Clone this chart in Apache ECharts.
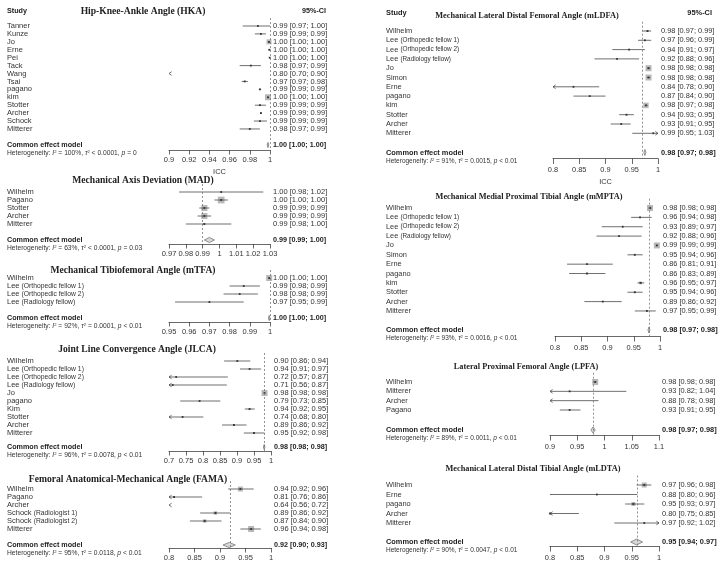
<!DOCTYPE html>
<html><head><meta charset="utf-8">
<script src="https://cdn.jsdelivr.net/npm/echarts@6/dist/echarts.min.js"></script>
<style>html,body{margin:0;padding:0;background:#fff}#c{width:728px;height:572px}</style>
</head><body><div id="c"></div>
<script>
// ================= DATA =================
// Hip-Knee-Ankle Angle (HKA)
const hkaTitle = 'Hip-Knee-Ankle Angle (HKA)';
const hkaStudies = ['Tanner','Kunze','Jo','Erne','Pei','Tack','Wang','Tsai','pagano','kim','Stotter','Archer','Schock','Mitterer'];
const hkaEst = [0.988,0.991,0.999,0.9995,0.9997,0.981,0.80,0.975,0.990,0.998,0.990,0.991,0.990,0.980];
const hkaLo  = [0.973,0.985,0.998,0.998,0.999,0.970,0.70,0.972,0.989,0.997,0.985,0.990,0.984,0.970];
const hkaHi  = [1.000,0.996,1.000,1.000,1.000,0.991,0.90,0.978,0.991,0.999,0.996,0.992,0.997,0.990];
const hkaWeight = [0.3,1,25,2,2,0.3,0.1,1,2,36,1,2,1,0.3];
const hkaCI = ['0.99 [0.97; 1.00]','0.99 [0.99; 0.99]','1.00 [1.00; 1.00]','1.00 [1.00; 1.00]','1.00 [1.00; 1.00]','0.98 [0.97; 0.99]','0.80 [0.70; 0.90]','0.97 [0.97; 0.98]','0.99 [0.99; 0.99]','1.00 [1.00; 1.00]','0.99 [0.99; 0.99]','0.99 [0.99; 0.99]','0.99 [0.99; 0.99]','0.98 [0.97; 0.99]'];
const hkaPooled = [0.998,0.9975,0.9985];
const hkaPooledLabel = '1.00 [1.00; 1.00]';
const hkaHet = ['100%','<','0.0001','=','0'];
const hkaTicks = [0.9,0.92,0.94,0.96,0.98,1];

// Mechanical Axis Deviation (MAD)
const madTitle = 'Mechanical Axis Deviation (MAD)';
const madStudies = ['Wilhelm','Pagano','Stotter','Archer','Mitterer'];
const madEst = [1.001,1.001,0.991,0.991,0.991];
const madLo  = [0.976,0.997,0.988,0.987,0.980];
const madHi  = [1.026,1.005,0.994,0.995,1.007];
const madWeight = [0.4,45,36,36,4];
const madCI = ['1.00 [0.98; 1.02]','1.00 [1.00; 1.00]','0.99 [0.99; 0.99]','0.99 [0.99; 0.99]','0.99 [0.98; 1.00]'];
const madPooled = [0.994,0.991,0.997];
const madPooledLabel = '0.99 [0.99; 1.00]';
const madHet = ['63%','<','0.0001','=','0.03'];
const madTicks = [0.97,0.98,0.99,1,1.01,1.02,1.03];

// Mechanical Tibiofemoral Angle (mTFA)
const mtfaTitle = 'Mechanical Tibiofemoral Angle (mTFA)';
const mtfaStudies = ['Wilhelm','Lee (Orthopedic fellow 1)','Lee (Orthopedic fellow 2)','Lee (Radiology fellow)'];
const mtfaEst = [0.9996,0.987,0.985,0.970];
const mtfaLo  = [0.9993,0.980,0.977,0.953];
const mtfaHi  = [0.9999,0.995,0.994,0.987];
const mtfaWeight = [36,0.3,0.3,0.2];
const mtfaCI = ['1.00 [1.00; 1.00]','0.99 [0.98; 0.99]','0.98 [0.98; 0.99]','0.97 [0.95; 0.99]'];
const mtfaPooled = [0.9996,0.9993,0.9999];
const mtfaPooledLabel = '1.00 [1.00; 1.00]';
const mtfaHet = ['92%','=','0.0001','<','0.01'];
const mtfaTicks = [0.95,0.96,0.97,0.98,0.99,1];

// Joint Line Convergence Angle (JLCA)
const jlcaTitle = 'Joint Line Convergence Angle (JLCA)';
const jlcaStudies = ['Wilhelm','Lee (Orthopedic fellow 1)','Lee (Orthopedic fellow 2)','Lee (Radiology fellow)','Jo','pagano','Kim','Stotter','Archer','Mitterer'];
const jlcaEst = [0.901,0.937,0.721,0.711,0.981,0.790,0.937,0.740,0.891,0.950];
const jlcaLo  = [0.862,0.909,0.57,0.56,0.980,0.733,0.923,0.68,0.856,0.920];
const jlcaHi  = [0.939,0.971,0.873,0.870,0.982,0.851,0.952,0.801,0.928,0.981];
const jlcaWeight = [0.5,0.5,0.1,0.1,36,0.2,3,0.2,0.4,0.5];
const jlcaCI = ['0.90 [0.86; 0.94]','0.94 [0.91; 0.97]','0.72 [0.57; 0.87]','0.71 [0.56; 0.87]','0.98 [0.98; 0.98]','0.79 [0.73; 0.85]','0.94 [0.92; 0.95]','0.74 [0.68; 0.80]','0.89 [0.86; 0.92]','0.95 [0.92; 0.98]'];
const jlcaPooled = [0.980,0.979,0.981];
const jlcaPooledLabel = '0.98 [0.98; 0.98]';
const jlcaHet = ['96%','=','0.0078','<','0.01'];
const jlcaTicks = [0.7,0.75,0.8,0.85,0.9,0.95,1];

// Femoral Anatomical-Mechanical Angle (FAMA)
const famaTitle = 'Femoral Anatomical-Mechanical Angle (FAMA)';
const famaStudies = ['Wilhelm','Pagano','Archer','Schock (Radiologist 1)','Schock (Radiologist 2)','Mitterer'];
const famaEst = [0.940,0.810,0.64,0.891,0.870,0.961];
const famaLo  = [0.916,0.76,0.56,0.861,0.841,0.940];
const famaHi  = [0.966,0.865,0.72,0.920,0.903,0.980];
const famaWeight = [25,1,1,12,12,36];
const famaCI = ['0.94 [0.92; 0.96]','0.81 [0.76; 0.86]','0.64 [0.56; 0.72]','0.89 [0.86; 0.92]','0.87 [0.84; 0.90]','0.96 [0.94; 0.98]'];
const famaPooled = [0.918,0.906,0.930];
const famaPooledLabel = '0.92 [0.90; 0.93]';
const famaHet = ['95%','=','0.0118','<','0.01'];
const famaTicks = [0.8,0.85,0.9,0.95,1];

// Mechanical Lateral Distal Femoral Angle (mLDFA)
const mldfaTitle = 'Mechanical Lateral Distal Femoral Angle (mLDFA)';
const mldfaStudies = ['Wilhelm','Lee (Orthopedic fellow 1)','Lee (Orthopedic fellow 2)','Lee (Radiology fellow)','Jo','Simon','Erne','pagano','kim','Stotter','Archer','Mitterer'];
const mldfaEst = [0.980,0.975,0.945,0.922,0.982,0.982,0.839,0.870,0.977,0.940,0.930,0.991];
const mldfaLo  = [0.970,0.962,0.913,0.879,0.979,0.979,0.78,0.839,0.975,0.926,0.910,0.951];
const mldfaHi  = [0.987,0.987,0.975,0.964,0.985,0.985,0.888,0.900,0.980,0.954,0.948,1.03];
const mldfaWeight = [4,2,0.5,0.5,36,36,0.3,0.5,30,2,1,0.3];
const mldfaCI = ['0.98 [0.97; 0.99]','0.97 [0.96; 0.99]','0.94 [0.91; 0.97]','0.92 [0.88; 0.96]','0.98 [0.98; 0.98]','0.98 [0.98; 0.98]','0.84 [0.78; 0.90]','0.87 [0.84; 0.90]','0.98 [0.97; 0.98]','0.94 [0.93; 0.95]','0.93 [0.91; 0.95]','0.99 [0.95; 1.03]'];
const mldfaPooled = [0.975,0.973,0.977];
const mldfaPooledLabel = '0.98 [0.97; 0.98]';
const mldfaHet = ['91%','=','0.0015','<','0.01'];
const mldfaTicks = [0.8,0.85,0.9,0.95,1];

// Mechanical Medial Proximal Tibial Angle (mMPTA)
const mmptaTitle = 'Mechanical Medial Proximal Tibial Angle (mMPTA)';
const mmptaStudies = ['Wilhelm','Lee (Orthopedic fellow 1)','Lee (Orthopedic fellow 2)','Lee (Radiology fellow)','Jo','Simon','Erne','pagano','kim','Stotter','Archer','Mitterer'];
const mmptaEst = [0.981,0.962,0.929,0.922,0.994,0.952,0.861,0.861,0.963,0.952,0.891,0.975];
const mmptaLo  = [0.978,0.945,0.889,0.879,0.992,0.938,0.823,0.827,0.957,0.938,0.856,0.952];
const mmptaHi  = [0.984,0.984,0.967,0.965,0.996,0.967,0.910,0.896,0.970,0.967,0.927,0.992];
const mmptaWeight = [36,1,0.5,0.5,36,3,0.3,0.3,8,3,0.5,1];
const mmptaCI = ['0.98 [0.98; 0.98]','0.96 [0.94; 0.98]','0.93 [0.89; 0.97]','0.92 [0.88; 0.96]','0.99 [0.99; 0.99]','0.95 [0.94; 0.96]','0.86 [0.81; 0.91]','0.86 [0.83; 0.89]','0.96 [0.95; 0.97]','0.95 [0.94; 0.96]','0.89 [0.86; 0.92]','0.97 [0.95; 0.99]'];
const mmptaPooled = [0.979,0.977,0.981];
const mmptaPooledLabel = '0.98 [0.97; 0.98]';
const mmptaHet = ['93%','=','0.0016','<','0.01'];
const mmptaTicks = [0.8,0.85,0.9,0.95,1];

// Lateral Proximal Femoral Angle (LPFA)
const lpfaTitle = 'Lateral Proximal Femoral Angle (LPFA)';
const lpfaStudies = ['Wilhelm','Mitterer','Archer','Pagano'];
const lpfaEst = [0.983,0.936,0.88,0.936];
const lpfaLo  = [0.981,0.82,0.78,0.918];
const lpfaHi  = [0.985,1.04,0.989,0.956];
const lpfaWeight = [36,0.2,0.2,1];
const lpfaCI = ['0.98 [0.98; 0.98]','0.93 [0.82; 1.04]','0.88 [0.78; 0.98]','0.93 [0.91; 0.95]'];
const lpfaPooled = [0.979,0.975,0.983];
const lpfaPooledLabel = '0.98 [0.97; 0.98]';
const lpfaHet = ['89%','=','0.0011','<','0.01'];
const lpfaTicks = [0.9,0.95,1,1.05,1.1];

// Mechanical Lateral Distal Tibial Angle (mLDTA)
const mldtaTitle = 'Mechanical Lateral Distal Tibial Angle (mLDTA)';
const mldtaStudies = ['Wilhelm','Erne','pagano','Archer','Mitterer'];
const mldtaEst = [0.973,0.886,0.953,0.800,0.973];
const mldtaLo  = [0.959,0.80,0.938,0.75,0.918];
const mldtaHi  = [0.986,0.96,0.973,0.853,1.02];
const mldtaWeight = [25,0.3,16,1,1];
const mldtaCI = ['0.97 [0.96; 0.98]','0.88 [0.80; 0.96]','0.95 [0.93; 0.97]','0.80 [0.75; 0.85]','0.97 [0.92; 1.02]'];
const mldtaPooled = [0.959,0.948,0.970];
const mldtaPooledLabel = '0.95 [0.94; 0.97]';
const mldtaHet = ['90%','=','0.0047','<','0.01'];
const mldtaTicks = [0.8,0.85,0.9,0.95,1];

// ================= LAYOUT =================
const FS = '"Liberation Sans", Arial, Helvetica, sans-serif';
const SERIF = '"Liberation Serif", "Times New Roman", Times, serif';
const colStyle = [
  {nameX:7, fs:7.5, boldFs:7.2, titleFs:9.6, tickLen:4.5, labelMargin:6, hetFs:6.7, dh:2.6, studyY:11, ciHeadX:326, ciHeadY:11, sub:0.9},
  {nameX:386, fs:7.4, boldFs:7.4, titleFs:8.3, tickLen:5.5, labelMargin:8, hetFs:6.5, dh:3, studyY:13, ciHeadX:712, ciHeadY:13, sub:0.86}
];
const layout = {
  hka:   {col:0, titleX:143, titleY:12,  y0:26,  step:7.92, commonY:145, hetY:153, axisY:150, gridL:169, gridR:270},
  mad:   {col:0, titleX:143, titleY:181, y0:192, step:8,    commonY:240, hetY:248, axisY:244, gridL:169, gridR:270},
  mtfa:  {col:0, titleX:133, titleY:271, y0:278, step:8,    commonY:318, hetY:326, axisY:322, gridL:169, gridR:270},
  jlca:  {col:0, titleX:137, titleY:350, y0:361, step:8,    commonY:447, hetY:455, axisY:451, gridL:169, gridR:271},
  fama:  {col:0, titleX:128, titleY:480, y0:489, step:8,    commonY:545, hetY:553, axisY:548, gridL:169, gridR:271},
  mldfa: {col:1, titleX:527, titleY:16,  y0:31,  step:9.3,  commonY:152.5, hetY:161, axisY:158.5, gridL:553, gridR:658},
  mmpta: {col:1, titleX:529, titleY:197, y0:208, step:9.36, commonY:330, hetY:338, axisY:336, gridL:555, gridR:660},
  lpfa:  {col:1, titleX:526, titleY:367, y0:382, step:9.33, commonY:430, hetY:438, axisY:435, gridL:550, gridR:659},
  mldta: {col:1, titleX:533, titleY:469, y0:485, step:9.5,  commonY:542, hetY:550, axisY:546, gridL:550, gridR:659}
};

const panels = [
  {id:'hka', title:hkaTitle, studies:hkaStudies, est:hkaEst, lo:hkaLo, hi:hkaHi, w:hkaWeight, ci:hkaCI, pooled:hkaPooled, pooledLabel:hkaPooledLabel, het:hkaHet, ticks:hkaTicks, icc:true},
  {id:'mad', title:madTitle, studies:madStudies, est:madEst, lo:madLo, hi:madHi, w:madWeight, ci:madCI, pooled:madPooled, pooledLabel:madPooledLabel, het:madHet, ticks:madTicks},
  {id:'mtfa', title:mtfaTitle, studies:mtfaStudies, est:mtfaEst, lo:mtfaLo, hi:mtfaHi, w:mtfaWeight, ci:mtfaCI, pooled:mtfaPooled, pooledLabel:mtfaPooledLabel, het:mtfaHet, ticks:mtfaTicks},
  {id:'jlca', title:jlcaTitle, studies:jlcaStudies, est:jlcaEst, lo:jlcaLo, hi:jlcaHi, w:jlcaWeight, ci:jlcaCI, pooled:jlcaPooled, pooledLabel:jlcaPooledLabel, het:jlcaHet, ticks:jlcaTicks},
  {id:'fama', title:famaTitle, studies:famaStudies, est:famaEst, lo:famaLo, hi:famaHi, w:famaWeight, ci:famaCI, pooled:famaPooled, pooledLabel:famaPooledLabel, het:famaHet, ticks:famaTicks},
  {id:'mldfa', title:mldfaTitle, studies:mldfaStudies, est:mldfaEst, lo:mldfaLo, hi:mldfaHi, w:mldfaWeight, ci:mldfaCI, pooled:mldfaPooled, pooledLabel:mldfaPooledLabel, het:mldfaHet, ticks:mldfaTicks, icc:true},
  {id:'mmpta', title:mmptaTitle, studies:mmptaStudies, est:mmptaEst, lo:mmptaLo, hi:mmptaHi, w:mmptaWeight, ci:mmptaCI, pooled:mmptaPooled, pooledLabel:mmptaPooledLabel, het:mmptaHet, ticks:mmptaTicks},
  {id:'lpfa', title:lpfaTitle, studies:lpfaStudies, est:lpfaEst, lo:lpfaLo, hi:lpfaHi, w:lpfaWeight, ci:lpfaCI, pooled:lpfaPooled, pooledLabel:lpfaPooledLabel, het:lpfaHet, ticks:lpfaTicks},
  {id:'mldta', title:mldtaTitle, studies:mldtaStudies, est:mldtaEst, lo:mldtaLo, hi:mldtaHi, w:mldtaWeight, ci:mldtaCI, pooled:mldtaPooled, pooledLabel:mldtaPooledLabel, het:mldtaHet, ticks:mldtaTicks}
];

const TXT = '#333';
const LINE = '#4a4a4a';

function nameText(n) {
  const k = n.indexOf(' (');
  if (k < 0) return '{a|' + n + '}';
  return '{a|' + n.slice(0, k) + ' }{b|' + n.slice(k + 1) + '}';
}

function makeRender(p, L, C, min, max) {
  return function (params, api) {
    const est = api.value(0), lo = api.value(1), hi = api.value(2), row = api.value(3), w = api.value(4), kind = api.value(5);
    const y = api.coord([min, row])[1];
    const X = v => api.coord([v, row])[0];
    const ch = [];
    const idx = params.dataIndex;
    if (kind === 0) {
      const a = Math.max(lo, min), b = Math.min(hi, max);
      const s = Math.sqrt(w);
      const inR = est >= min && est <= max;
      if (inR && s > 0.6) ch.push({type:'rect', shape:{x:X(est)-s/2, y:y-s/2, width:s, height:s}, style:{fill:'#b8b8b8'}});
      if (b > a) ch.push({type:'line', shape:{x1:X(a), y1:y, x2:X(b), y2:y}, style:{stroke:LINE, lineWidth:0.8}});
      if (lo < min) { const xl = X(min); ch.push({type:'polyline', shape:{points:[[xl+2.6,y-1.8],[xl,y],[xl+2.6,y+1.8]]}, style:{stroke:LINE, lineWidth:0.8, fill:null}}); }
      if (hi > max) { const xr = X(max); ch.push({type:'polyline', shape:{points:[[xr-2.6,y-1.8],[xr,y],[xr-2.6,y+1.8]]}, style:{stroke:LINE, lineWidth:0.8, fill:null}}); }
      if (inR) ch.push({type:'rect', shape:{x:X(est)-0.9, y:y-0.9, width:1.8, height:1.8}, style:{fill:'#333'}});
      ch.push({type:'text', style:{x:C.nameX, y:y, text:nameText(p.studies[idx]), fill:TXT, font:C.fs+'px '+FS, align:'left', verticalAlign:'middle',
        rich:{a:{fontSize:C.fs, fontFamily:FS, fill:TXT, verticalAlign:'middle'}, b:{fontSize:C.fs*C.sub, fontFamily:FS, fill:TXT, verticalAlign:'middle'}}}});
      ch.push({type:'text', style:{x:L.gridR+3, y:y, text:p.ci[idx], fill:TXT, font:C.fs+'px '+FS, align:'left', verticalAlign:'middle'}});
    } else {
      let xl = X(lo), xr = X(hi); const xc = X(est);
      if (xr - xl < 1.6) { xl = xc - 0.8; xr = xc + 0.8; }
      ch.push({type:'polygon', shape:{points:[[xl,y],[xc,y-C.dh],[xr,y],[xc,y+C.dh]]}, style:{fill:'#d8d8d8', stroke:'#777', lineWidth:0.8}});
      ch.push({type:'text', style:{x:C.nameX, y:y, text:'Common effect model', fill:'#222', font:'bold '+C.boldFs+'px '+FS, align:'left', verticalAlign:'middle'}});
      ch.push({type:'text', style:{x:L.gridR+3, y:y, text:p.pooledLabel, fill:'#222', font:'bold '+C.boldFs+'px '+FS, align:'left', verticalAlign:'middle'}});
    }
    return {type:'group', children:ch};
  };
}

const grids = [], xAxes = [], yAxes = [], series = [], graphics = [];
panels.forEach((p, i) => {
  const L = layout[p.id], C = colStyle[L.col];
  const min = p.ticks[0], max = p.ticks[p.ticks.length - 1];
  const interval = +(p.ticks[1] - p.ticks[0]).toFixed(4);
  const top = L.y0 - L.step;
  grids.push({left:L.gridL, top:top, width:L.gridR - L.gridL, height:L.axisY - top, outerBoundsMode:'none'});
  xAxes.push({gridIndex:i, type:'value', min:min, max:max, interval:interval, position:'bottom',
    axisLine:{onZero:false, lineStyle:{color:'#444', width:0.8}},
    axisTick:{length:C.tickLen, lineStyle:{color:'#444', width:0.8}},
    axisLabel:{fontSize:C.fs, fontFamily:FS, color:TXT, margin:C.labelMargin, showMinLabel:true, showMaxLabel:true, hideOverlap:false},
    splitLine:{show:false}});
  yAxes.push({gridIndex:i, type:'value', inverse:true, min:-1, max:(L.axisY - L.y0) / L.step, show:false});
  const data = p.studies.map((s, k) => [p.est[k], p.lo[k], p.hi[k], k, p.w[k], 0]);
  data.push([p.pooled[0], p.pooled[1], p.pooled[2], (L.commonY - L.y0) / L.step, 0, 1]);
  series.push({type:'custom', xAxisIndex:i, yAxisIndex:i, clip:false, silent:true, animation:false,
    renderItem:makeRender(p, L, C, min, max), data:data, z:3,
    markLine:{silent:true, symbol:'none', animation:false, label:{show:false},
      lineStyle:{type:[2,2], color:'#777', width:0.8}, data:[{xAxis:p.pooled[0]}]}});
  graphics.push({type:'text', x:L.titleX, y:L.titleY, style:{text:p.title, font:'bold '+C.titleFs+'px '+SERIF, fill:'#222', align:'center', verticalAlign:'middle'}});
  const h = p.het;
  graphics.push({type:'text', x:C.nameX, y:L.hetY, style:{
    text:'Heterogeneity: {i|I}{s|2} = ' + h[0] + ', {i|τ}{s|2} ' + h[1] + ' ' + h[2] + ', {i|p} ' + h[3] + ' ' + h[4],
    font:C.hetFs+'px '+FS, fill:TXT, align:'left', verticalAlign:'middle',
    rich:{i:{fontStyle:'italic', fontSize:C.hetFs, fontFamily:FS, fill:TXT}, s:{fontSize:C.hetFs*0.62, fontFamily:FS, fill:TXT, verticalAlign:'top'}}}});
  if (p.icc) graphics.push({type:'text', x:(L.gridL + L.gridR) / 2, y:L.axisY + C.labelMargin + C.fs * 2.1, style:{text:'ICC', font:C.fs+'px '+FS, fill:TXT, align:'center', verticalAlign:'middle'}});
});
colStyle.forEach(C => {
  graphics.push({type:'text', x:C.nameX, y:C.studyY, style:{text:'Study', font:'bold '+C.boldFs+'px '+FS, fill:'#222', align:'left', verticalAlign:'middle'}});
  graphics.push({type:'text', x:C.ciHeadX, y:C.ciHeadY, style:{text:'95%-CI', font:'bold '+C.boldFs+'px '+FS, fill:'#222', align:'right', verticalAlign:'middle'}});
});

const chart = echarts.init(document.getElementById('c'), null, {renderer:'canvas'});
chart.setOption({backgroundColor:'#fff', animation:false, grid:grids, xAxis:xAxes, yAxis:yAxes, series:series, graphic:graphics});
</script></body></html>
